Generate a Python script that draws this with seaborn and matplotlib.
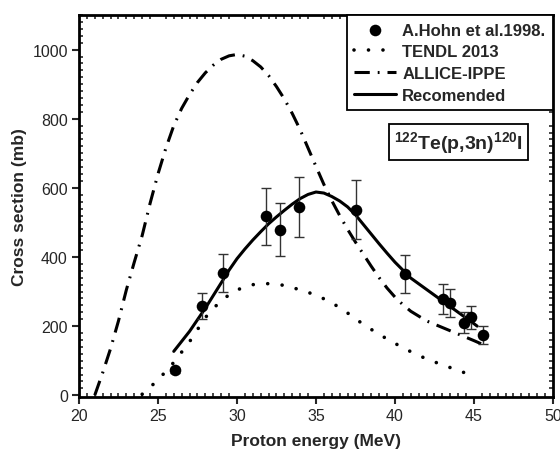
import matplotlib
matplotlib.use("Agg")
import matplotlib.pyplot as plt
import seaborn as sns
import pandas as pd
from matplotlib.ticker import MultipleLocator

# ---- data ----
hohn_x = [26.05, 27.8, 29.1, 31.85, 32.75, 33.9, 37.55, 40.65, 43.05, 43.5, 44.35, 44.8, 45.55]
hohn_y = [72, 259, 354, 518, 479, 545, 537, 351, 278, 267, 210, 225, 174]
hohn_err = [8, 38, 55, 82, 77, 86, 85, 54, 43, 41, 30, 33, 27]

tendl_x = [24, 25, 26, 27, 28, 29, 30, 31, 32, 33, 34, 35, 36, 37, 38, 39, 40, 41, 42, 43, 44, 45]
tendl_y = [3, 44, 95, 155, 225, 275, 305, 320, 323, 318, 305, 290, 268, 238, 205, 176, 150, 126, 105, 88, 72, 55]

allice_x = [21, 21.5, 22, 22.5, 23, 23.5, 24, 24.5, 25, 25.5, 26, 26.5, 27, 27.5, 28, 28.5, 29, 29.5,
            30, 30.5, 31, 31.5, 32, 32.5, 33, 33.5, 34, 34.5, 35, 35.5, 36, 36.5, 37, 37.5, 38, 38.5,
            39, 39.5, 40, 40.5, 41, 42, 43, 44, 45, 45.5]
allice_y = [0, 65, 135, 215, 305, 385, 462, 555, 640, 715, 780, 830, 870, 905, 933, 955, 972, 982,
            986, 981, 968, 950, 925, 893, 857, 815, 768, 715, 662, 610, 563, 520, 480, 443, 408, 373,
            340, 310, 284, 262, 243, 215, 196, 177, 158, 148]

rec_x = [26, 27, 28, 29, 29.5, 30, 30.5, 31, 31.5, 32, 32.5, 33, 33.5, 34, 34.5, 35, 35.5, 36, 36.5,
         37, 37.5, 38, 38.5, 39, 39.5, 40, 41, 42, 43, 44, 45, 45.2]
rec_y = [127, 185, 252, 325, 362, 395, 423, 449, 473, 496, 516, 535, 553, 569, 581, 588, 585, 575, 562,
         545, 522, 494, 466, 438, 411, 385, 339, 306, 273, 240, 207, 200]

labels = ["A.Hohn et al.1998.", "TENDL 2013", "ALLICE-IPPE", "Recomended"]

# ---- style ----
sns.set_style("white")
plt.rcParams['font.family'] = ['Liberation Sans', 'DejaVu Sans']
plt.rcParams['mathtext.fontset'] = 'custom'
plt.rcParams['mathtext.rm'] = 'Liberation Sans'
plt.rcParams['mathtext.bf'] = 'Liberation Sans:bold'

fig = plt.figure(figsize=(5.6, 4.52), dpi=100)
ax = fig.add_axes([0.141, 0.1195, 0.8465, 0.845])

df_t = pd.DataFrame({"x": tendl_x, "y": tendl_y})
df_a = pd.DataFrame({"x": allice_x, "y": allice_y})
df_r = pd.DataFrame({"x": rec_x, "y": rec_y})
df_h = pd.DataFrame({"x": hohn_x, "y": hohn_y})

ax.errorbar(hohn_x, hohn_y, yerr=hohn_err, fmt="none", ecolor="#333333",
            elinewidth=1.0, capsize=3.5, capthick=1.0, zorder=3)
sns.scatterplot(data=df_h, x="x", y="y", ax=ax, color="black", s=70,
                edgecolor="black", linewidth=0, label=labels[0], zorder=4)
sns.lineplot(data=df_t, x="x", y="y", ax=ax, color="black", lw=2.6,
             linestyle=(0, (0.01, 4.0)), dash_capstyle="round", label=labels[1])
sns.lineplot(data=df_a, x="x", y="y", ax=ax, color="black", lw=2.2,
             linestyle=(0, (5, 2.6, 0.6, 2.6)), dash_capstyle="butt", label=labels[2])
sns.lineplot(data=df_r, x="x", y="y", ax=ax, color="black", lw=2.2,
             linestyle="-", label=labels[3])

ax.set_xlim(20, 50)
ax.set_ylim(-5, 1100)
ax.xaxis.set_major_locator(MultipleLocator(5))
ax.xaxis.set_minor_locator(MultipleLocator(0.5))
ax.yaxis.set_minor_locator(MultipleLocator(20))
ax.set_yticks([0, 200, 400, 600, 800, 1000])

ax.tick_params(axis="both", which="major", direction="out", length=5, width=1.5,
               labelsize=11.5, bottom=True, left=True, pad=3)
ax.tick_params(axis="both", which="minor", direction="in", length=3, width=1.2,
               bottom=True, left=True, top=True, right=True)
ax.tick_params(axis="both", which="major", top=False, right=False)
for s in ax.spines.values():
    s.set_linewidth(2)
    s.set_color("black")

ax.set_xlabel("Proton energy (MeV)", fontsize=12.5, fontweight="bold", labelpad=7)
ax.set_ylabel("Cross section (mb)", fontsize=12.5, fontweight="bold", labelpad=4)

handles, labs = ax.get_legend_handles_labels()
order = [labs.index(l) for l in labels]
leg = ax.legend([handles[i] for i in order], [labs[i] for i in order],
                loc="upper right", bbox_to_anchor=(1.0, 1.0), frameon=True, fancybox=False,
                edgecolor="black", framealpha=1, handlelength=2.5, handletextpad=0.4,
                borderpad=0.45, labelspacing=0.4, borderaxespad=0.0,
                prop={"weight": "bold", "size": 12})
leg.get_frame().set_linewidth(1.3)

ax.text(44.0, 732, r"$^{\mathbf{122}}$Te(p,3n)$^{\mathbf{120}}$I", ha="center", va="center",
        fontsize=14, fontweight="bold",
        bbox=dict(boxstyle="square,pad=0.25", facecolor="white", edgecolor="black", linewidth=1.3))

fig.savefig("out.png", dpi=100)
